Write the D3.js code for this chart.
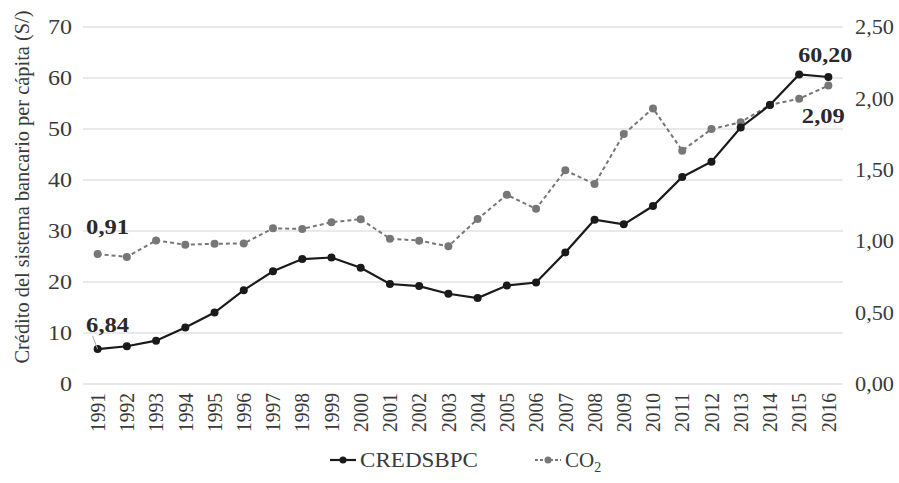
<!DOCTYPE html>
<html><head><meta charset="utf-8">
<script src="https://cdn.jsdelivr.net/npm/d3@7"></script>
<style>body{margin:0;background:#fff}svg{display:block}</style>
</head><body><svg id="c" width="899" height="483"></svg>
<script>
const years = ["1991","1992","1993","1994","1995","1996","1997","1998","1999","2000","2001","2002","2003","2004","2005","2006","2007","2008","2009","2010","2011","2012","2013","2014","2015","2016"];
const credsbpc = [6.84,7.4,8.5,11.1,14.0,18.4,22.1,24.5,24.8,22.8,19.6,19.2,17.7,16.85,19.3,19.9,25.8,32.2,31.3,34.9,40.6,43.6,50.3,54.7,60.7,60.20];
const co2 = [0.91,0.89,1.005,0.975,0.982,0.984,1.09,1.086,1.133,1.154,1.018,1.004,0.964,1.155,1.325,1.227,1.496,1.40,1.75,1.93,1.634,1.785,1.833,1.955,1.997,2.09];
const leftTicks = [0,10,20,30,40,50,60,70];
const rightTicks = [0,0.5,1,1.5,2,2.5];
const yTitle = "Crédito del sistema bancario per cápita (S/)";

const svg = d3.select("#c");
const font = "'Liberation Serif', 'DejaVu Serif', serif";
const txt = "#3a3a3a";
const L = 83, R = 843, T = 27, B = 384;
const x = d3.scaleBand().domain(years).range([L, R]);
const cx = d => x(d) + x.bandwidth()/2;
const yL = d3.scaleLinear().domain([0,70]).range([B, T]);
const yR = d3.scaleLinear().domain([0,2.5]).range([B, T]);
const fmt2 = v => d3.format(".2f")(v).replace(".", ",");

// grid
svg.append("g").selectAll("line").data(leftTicks).join("line")
  .attr("x1", L).attr("x2", R).attr("y1", d=>yL(d)).attr("y2", d=>yL(d))
  .attr("stroke", "#d4d4d4").attr("stroke-width", 1.2);

// left axis
const ga = svg.append("g").attr("transform", `translate(${L},0)`)
  .call(d3.axisLeft(yL).tickValues(leftTicks).tickSize(0).tickPadding(11));
ga.select(".domain").remove();
ga.selectAll("text").attr("font-family", font).attr("font-size", 21).attr("fill", txt)
  .attr("textLength", d => d === 0 ? 12 : 24).attr("lengthAdjust", "spacingAndGlyphs");

// right axis
const gr = svg.append("g").attr("transform", `translate(${R},0)`)
  .call(d3.axisRight(yR).tickValues(rightTicks).tickSize(0).tickPadding(12).tickFormat(fmt2));
gr.select(".domain").remove();
gr.selectAll("text").attr("font-family", font).attr("font-size", 21).attr("fill", txt)
  .attr("textLength", 39).attr("lengthAdjust", "spacingAndGlyphs");

// x axis
const gx = svg.append("g").attr("transform", `translate(0,${B})`)
  .call(d3.axisBottom(x).tickSize(0).tickPadding(0));
gx.select(".domain").remove();
gx.selectAll("text").attr("font-family", font).attr("font-size", 20).attr("fill", txt)
  .attr("transform", "rotate(-90)").attr("text-anchor", "end").attr("dx", "-9px").attr("dy", "0.36em").attr("y", 0).attr("x", 0)
  .attr("textLength", 39).attr("lengthAdjust", "spacingAndGlyphs");

// y title
svg.append("text").attr("transform", `translate(22,187) rotate(-90)`)
  .attr("text-anchor", "middle").attr("dominant-baseline", "central")
  .attr("font-family", font).attr("font-size", 21).attr("fill", txt)
  .attr("textLength", 353).attr("lengthAdjust", "spacingAndGlyphs").text(yTitle);

// CO2 series
const lineR = d3.line().x((d,i)=>cx(years[i])).y(d=>yR(d));
svg.append("path").attr("d", lineR(co2)).attr("fill","none").attr("stroke","#777")
  .attr("stroke-width", 2).attr("stroke-dasharray", "4,3");
svg.append("g").selectAll("circle").data(co2).join("circle")
  .attr("cx",(d,i)=>cx(years[i])).attr("cy",d=>yR(d)).attr("r",4).attr("fill","#777");

// CRED series
const lineL = d3.line().x((d,i)=>cx(years[i])).y(d=>yL(d));
svg.append("path").attr("d", lineL(credsbpc)).attr("fill","none").attr("stroke","#1a1a1a").attr("stroke-width", 2.2);
svg.append("g").selectAll("circle").data(credsbpc).join("circle")
  .attr("cx",(d,i)=>cx(years[i])).attr("cy",d=>yL(d)).attr("r",4).attr("fill","#1a1a1a");

// data labels
const lab = (t, xx, yy, w) => svg.append("text").attr("x", xx).attr("y", yy)
  .attr("text-anchor", "middle").attr("font-family", font).attr("font-size", 22)
  .attr("font-weight", "bold").attr("fill", "#2a2a2a")
  .attr("textLength", w).attr("lengthAdjust", "spacingAndGlyphs").text(t);
const x0 = cx(years[0]), xN = cx(years[years.length-1]);
svg.append("line").attr("x1", x0-5).attr("y1", yL(credsbpc[0])-13).attr("x2", x0).attr("y2", yL(credsbpc[0]))
  .attr("stroke", "#aaa").attr("stroke-width", 1);
lab(fmt2(credsbpc[0]), x0+10, yL(credsbpc[0])-17, 43);
lab(fmt2(co2[0]), x0+10, yR(co2[0])-20, 43);
lab(fmt2(credsbpc[credsbpc.length-1]), xN-3, yL(credsbpc[credsbpc.length-1])-15, 54);
lab(fmt2(co2[co2.length-1]), xN-5, yR(co2[co2.length-1])+37, 43);

// legend
const ly = 460;
const lg = svg.append("g");
lg.append("line").attr("x1",330).attr("x2",356).attr("y1",ly).attr("y2",ly).attr("stroke","#1a1a1a").attr("stroke-width",2.2);
lg.append("circle").attr("cx",343).attr("cy",ly).attr("r",3.5).attr("fill","#1a1a1a");
lg.append("text").attr("x",360).attr("y",ly).attr("dy","0.35em").attr("font-family",font).attr("font-size",21).attr("fill",txt)
  .attr("textLength",118).attr("lengthAdjust","spacingAndGlyphs").text("CREDSBPC");
lg.append("line").attr("x1",535).attr("x2",561).attr("y1",ly).attr("y2",ly).attr("stroke","#777").attr("stroke-width",2).attr("stroke-dasharray","3,2");
lg.append("circle").attr("cx",548).attr("cy",ly).attr("r",3.5).attr("fill","#777");
const t2 = lg.append("text").attr("x",565).attr("y",ly).attr("dy","0.35em").attr("font-family",font).attr("font-size",21).attr("fill",txt);
t2.append("tspan").text("CO");
t2.append("tspan").attr("font-size",14).attr("dy","5").text("2");
</script></body></html>
